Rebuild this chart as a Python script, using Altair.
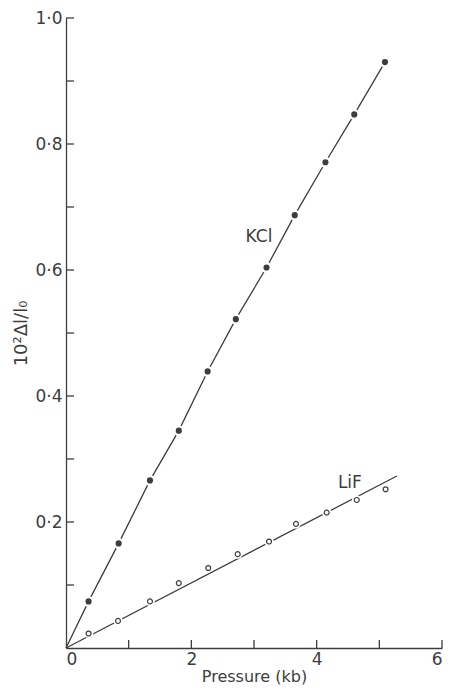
import altair as alt
import pandas as pd

# Data
pressure_kcl = [0.36, 0.84, 1.34, 1.80, 2.26, 2.71, 3.20, 3.65, 4.14, 4.60, 5.09]
strain_kcl = [0.074, 0.166, 0.266, 0.345, 0.439, 0.522, 0.604, 0.687, 0.771, 0.847, 0.930]
pressure_lif = [0.36, 0.83, 1.34, 1.80, 2.27, 2.74, 3.24, 3.67, 4.16, 4.64, 5.10]
strain_lif = [0.023, 0.043, 0.074, 0.103, 0.127, 0.149, 0.169, 0.197, 0.215, 0.235, 0.252]

# Drawn curves as traced in the reference
fit_kcl_x = [0.0] + pressure_kcl
fit_kcl_y = [0.0] + strain_kcl
fit_lif_x = [0.0, 5.28]
fit_lif_y = [0.0, 0.273]

x_ticks = [1, 2, 3, 4, 5, 6]
x_labels = [0, 2, 4, 6]
y_ticks = [0.1, 0.2, 0.3, 0.4, 0.5, 0.6, 0.7, 0.8, 0.9, 1.0]
y_labels = [0.2, 0.4, 0.6, 0.8, 1.0]

labels_text = ["KCl", "LiF"]
labels_x = [3.08, 4.53]
labels_y = [0.652, 0.262]

INK = "#3d3d3d"
FONT = "DejaVu Sans"
W, H = 376, 630

kcl = pd.DataFrame({"p": pressure_kcl, "s": strain_kcl})
lif = pd.DataFrame({"p": pressure_lif, "s": strain_lif})
fit_kcl = pd.DataFrame({"p": fit_kcl_x, "s": fit_kcl_y, "o": list(range(len(fit_kcl_x)))})
fit_lif = pd.DataFrame({"p": fit_lif_x, "s": fit_lif_y})
lab = pd.DataFrame({"t": labels_text, "p": labels_x, "s": labels_y})
xt = pd.DataFrame({"v": x_ticks})
yt = pd.DataFrame({"v": y_ticks})

xscale = alt.Scale(domain=[0, 6], nice=False, zero=True)
yscale = alt.Scale(domain=[0, 1.0], nice=False, zero=True)

X = alt.X("p:Q", scale=xscale, axis=alt.Axis(
    values=x_labels, format="d", ticks=False, grid=False, domainColor=INK, domainWidth=1.3,
    labelFont=FONT, labelFontSize=17, labelColor=INK, labelPadding=3,
    title="Pressure (kb)", titleFont=FONT, titleFontSize=16, titleFontWeight="normal",
    titleColor=INK, titlePadding=1))
Y = alt.Y("s:Q", scale=yscale, axis=alt.Axis(
    values=y_labels, ticks=False, grid=False, domainColor=INK, domainWidth=1.3,
    labelFont=FONT, labelFontSize=17, labelColor=INK, labelPadding=4,
    labelExpr="replace(format(datum.value, '.1f'), '.', '·')",
    title="10²Δl/l₀", titleFont=FONT, titleFontSize=18, titleFontWeight="normal",
    titleColor=INK, titlePadding=4))

line_kcl = alt.Chart(fit_kcl).mark_line(color=INK, strokeWidth=1.3).encode(
    x=X, y=Y, order="o:Q")
line_lif = alt.Chart(fit_lif).mark_line(color=INK, strokeWidth=1.3).encode(
    x=alt.X("p:Q", scale=xscale), y=alt.Y("s:Q", scale=yscale))

halo_kcl = alt.Chart(kcl).mark_point(filled=True, color="white", size=120, opacity=1).encode(
    x=alt.X("p:Q", scale=xscale), y=alt.Y("s:Q", scale=yscale))
pts_kcl = alt.Chart(kcl).mark_point(filled=True, color=INK, size=38, opacity=1).encode(
    x=alt.X("p:Q", scale=xscale), y=alt.Y("s:Q", scale=yscale))
halo_lif = alt.Chart(lif).mark_point(filled=True, color="white", size=90, opacity=1).encode(
    x=alt.X("p:Q", scale=xscale), y=alt.Y("s:Q", scale=yscale))
pts_lif = alt.Chart(lif).mark_point(filled=False, color=INK, size=24, strokeWidth=1.2, opacity=1).encode(
    x=alt.X("p:Q", scale=xscale), y=alt.Y("s:Q", scale=yscale))

text = alt.Chart(lab).mark_text(font=FONT, fontSize=17, color=INK).encode(
    x=alt.X("p:Q", scale=xscale), y=alt.Y("s:Q", scale=yscale), text="t:N")

xticks = alt.Chart(xt).mark_rule(color=INK, strokeWidth=1.3).encode(
    x=alt.X("v:Q", scale=xscale), y=alt.value(H), y2=alt.value(H - 8))
yticks = alt.Chart(yt).mark_rule(color=INK, strokeWidth=1.3).encode(
    y=alt.Y("v:Q", scale=yscale), x=alt.value(0), x2=alt.value(8))

chart = alt.layer(
    line_kcl, line_lif, xticks, yticks, halo_kcl, halo_lif, pts_kcl, pts_lif, text
).properties(
    width=W, height=H,
    autosize=alt.AutoSizeParams(type="none"),
    padding={"left": 58, "top": 10, "right": 6, "bottom": 40},
    background="white",
).configure_view(stroke=None)

chart.save("out.html", embed_options={"renderer": "svg", "actions": False})
